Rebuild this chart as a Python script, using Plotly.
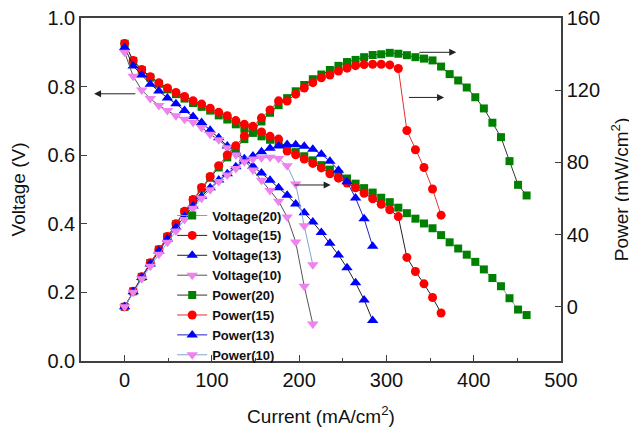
import plotly.graph_objects as go

# ---------------- data ----------------
current = [0.0, 9.8, 19.6, 29.4, 39.2, 49.0, 58.8, 68.6, 78.4, 88.2, 98.0, 107.8,
           117.6, 127.4, 137.2, 147.0, 156.8, 166.6, 176.4, 186.2, 196.0, 205.8,
           215.6, 225.4, 235.2, 245.0, 254.8, 264.6, 274.4, 284.2, 294.0, 303.8,
           313.6, 323.4, 333.2, 343.0, 352.8, 362.6, 372.4, 382.2, 392.0, 401.8,
           411.6, 421.4, 431.2, 441.0, 450.8, 460.6]

voltage_20 = [0.925, 0.875, 0.848, 0.826, 0.808, 0.792, 0.778, 0.765, 0.752, 0.741,
              0.730, 0.716, 0.704, 0.690, 0.677, 0.665, 0.655, 0.645, 0.633, 0.621,
              0.609, 0.597, 0.585, 0.571, 0.558, 0.545, 0.532, 0.517, 0.504, 0.491,
              0.476, 0.463, 0.447, 0.431, 0.415, 0.401, 0.387, 0.367, 0.346, 0.328,
              0.310, 0.289, 0.267, 0.242, 0.218, 0.183, 0.150, 0.134]
voltage_15 = [0.926, 0.876, 0.850, 0.829, 0.811, 0.796, 0.783, 0.771, 0.759, 0.749,
              0.737, 0.725, 0.715, 0.701, 0.690, 0.680, 0.668, 0.655, 0.647, 0.612,
              0.601, 0.589, 0.576, 0.563, 0.546, 0.533, 0.519, 0.505, 0.489, 0.473,
              0.457, 0.441, 0.421, 0.302, 0.261, 0.225, 0.185, 0.140]
voltage_13 = [0.914, 0.860, 0.834, 0.807, 0.787, 0.767, 0.750, 0.730, 0.713, 0.695,
              0.673, 0.651, 0.627, 0.609, 0.590, 0.568, 0.548, 0.527, 0.505, 0.483,
              0.458, 0.432, 0.405, 0.375, 0.343, 0.309, 0.272, 0.228, 0.178, 0.118]
voltage_10 = [0.900, 0.830, 0.790, 0.765, 0.745, 0.730, 0.715, 0.705, 0.696, 0.681,
              0.661, 0.645, 0.622, 0.601, 0.586, 0.557, 0.527, 0.497, 0.466, 0.420,
              0.347, 0.218, 0.108]

power_20 = [0.0, 8.6, 16.6, 24.3, 31.7, 38.8, 45.7, 52.5, 59.0, 65.4, 71.5, 77.2,
            82.8, 87.9, 92.9, 97.8, 102.7, 107.5, 111.7, 115.6, 119.4, 122.9, 126.1,
            128.7, 131.2, 133.5, 135.6, 136.8, 138.3, 139.5, 139.9, 140.7, 140.2,
            139.4, 138.3, 137.5, 136.5, 133.1, 128.9, 125.4, 121.5, 116.1, 109.9,
            102.0, 94.0, 80.7, 67.6, 61.7]
power_15 = [0.0, 8.6, 16.7, 24.4, 31.8, 39.0, 46.0, 52.9, 59.5, 66.1, 72.2, 78.2,
            84.1, 89.3, 94.7, 100.0, 104.7, 109.1, 114.1, 114.0, 117.8, 121.2, 124.2,
            126.9, 128.4, 130.6, 132.2, 133.6, 134.2, 134.4, 134.4, 134.0, 132.0,
            97.7, 87.0, 77.2, 65.3, 50.8]
power_13 = [0.0, 8.4, 16.3, 23.7, 30.9, 37.6, 44.1, 50.1, 55.9, 61.3, 66.0, 70.2,
            73.7, 77.6, 80.9, 83.5, 85.9, 87.8, 89.1, 89.9, 89.8, 88.9, 87.3, 84.5,
            80.7, 75.7, 69.3, 60.3, 48.8, 33.5]
power_10 = [0.0, 8.1, 15.5, 22.5, 29.2, 35.8, 42.0, 48.4, 54.6, 60.1, 64.8, 69.5,
            73.1, 76.6, 80.4, 81.9, 82.6, 82.8, 82.2, 78.2, 68.0, 44.9, 23.3]

x_ticks = [0, 100, 200, 300, 400, 500]
y_ticks = [0.0, 0.2, 0.4, 0.6, 0.8, 1.0]
y2_ticks = [0, 40, 80, 120, 160]

# ---------------- styles ----------------
GREEN = "#008000"
RED = "#FF0000"
BLUE = "#0000FF"
PINK = "#EE82EE"
FONT = "Liberation Sans, Arial, sans-serif"

series = [
    ("Voltage(20)", voltage_20, "y", GREEN, "square", 8, "#9a9a9a"),
    ("Voltage(15)", voltage_15, "y", RED, "circle", 9, "#222222"),
    ("Voltage(13)", voltage_13, "y", BLUE, "triangle-up", 10, "#222222"),
    ("Voltage(10)", voltage_10, "y", PINK, "triangle-down", 10, "#555555"),
    ("Power(20)", power_20, "y2", GREEN, "square", 8, "#333333"),
    ("Power(15)", power_15, "y2", RED, "circle", 9, "#E03030"),
    ("Power(13)", power_13, "y2", BLUE, "triangle-up", 10, "#2020C0"),
    ("Power(10)", power_10, "y2", PINK, "triangle-down", 10, "#7FA3D6"),
]

fig = go.Figure()
for name, vals, yax, col, sym, size, lcol in series:
    fig.add_trace(go.Scatter(
        x=current[:len(vals)], y=vals, yaxis=yax, name=name,
        mode="lines+markers",
        line=dict(color=lcol, width=1),
        marker=dict(color=col, symbol=sym, size=size, line=dict(width=0)),
    ))

axis_common = dict(
    showline=True, linecolor="#404040", linewidth=1.5,
    ticks="inside", ticklen=6, tickcolor="#404040", tickwidth=1.2,
    showgrid=False, zeroline=False, automargin=False,
    ticklabeloverflow="allow",
    tickfont=dict(family=FONT, size=20, color="#111111"),
)

# the page body adds an 8px offset, so the figure is sized to fit the window
fig.update_layout(
    width=629, height=419,
    margin=dict(l=73, r=76, t=10, b=66),
    paper_bgcolor="white", plot_bgcolor="white",
    font=dict(family=FONT, color="#111111"),
    xaxis=dict(
        range=[-50, 500], tickvals=x_ticks, mirror=True,
        minor=dict(ticks="inside", dtick=50, ticklen=3, tickcolor="#404040"),
        title=dict(text="Current (mA/cm<sup>2</sup>)", font=dict(family=FONT, size=19),
                   standoff=24),
        **axis_common,
    ),
    yaxis=dict(
        range=[0, 1.0], tickvals=y_ticks, tickformat=".1f",
        title=dict(text="Voltage (V)", font=dict(family=FONT, size=19), standoff=18),
        **axis_common,
    ),
    yaxis2=dict(
        range=[-30, 160], tickvals=y2_ticks, overlaying="y", side="right",
        title=dict(text="Power (mW/cm<sup>2</sup>)", font=dict(family=FONT, size=19),
                   standoff=16),
        **axis_common,
    ),
    legend=dict(
        x=0.19, y=0.22, xanchor="left", yanchor="middle",
        bgcolor="rgba(0,0,0,0)", borderwidth=0,
        font=dict(family=FONT, size=13, color="#111111", weight="bold"),
        itemwidth=30, tracegroupgap=0,
    ),
)

# direction arrows (which axis each curve belongs to)
arrows = [
    # (head_x, tail_x, y, yref)
    (-35, 14, 0.779, "y"),
    (380, 336, 141, "y2"),
    (366, 324, 116, "y2"),
    (236, 193, 67.5, "y2"),
]
for hx, tx, yy, yr in arrows:
    fig.add_annotation(
        x=hx, y=yy, xref="x", yref=yr, ax=tx, ay=yy, axref="x", ayref=yr,
        showarrow=True, arrowhead=2, arrowsize=1.4, arrowwidth=1,
        arrowcolor="#222222", text="",
    )

fig.write_html("out.html")
